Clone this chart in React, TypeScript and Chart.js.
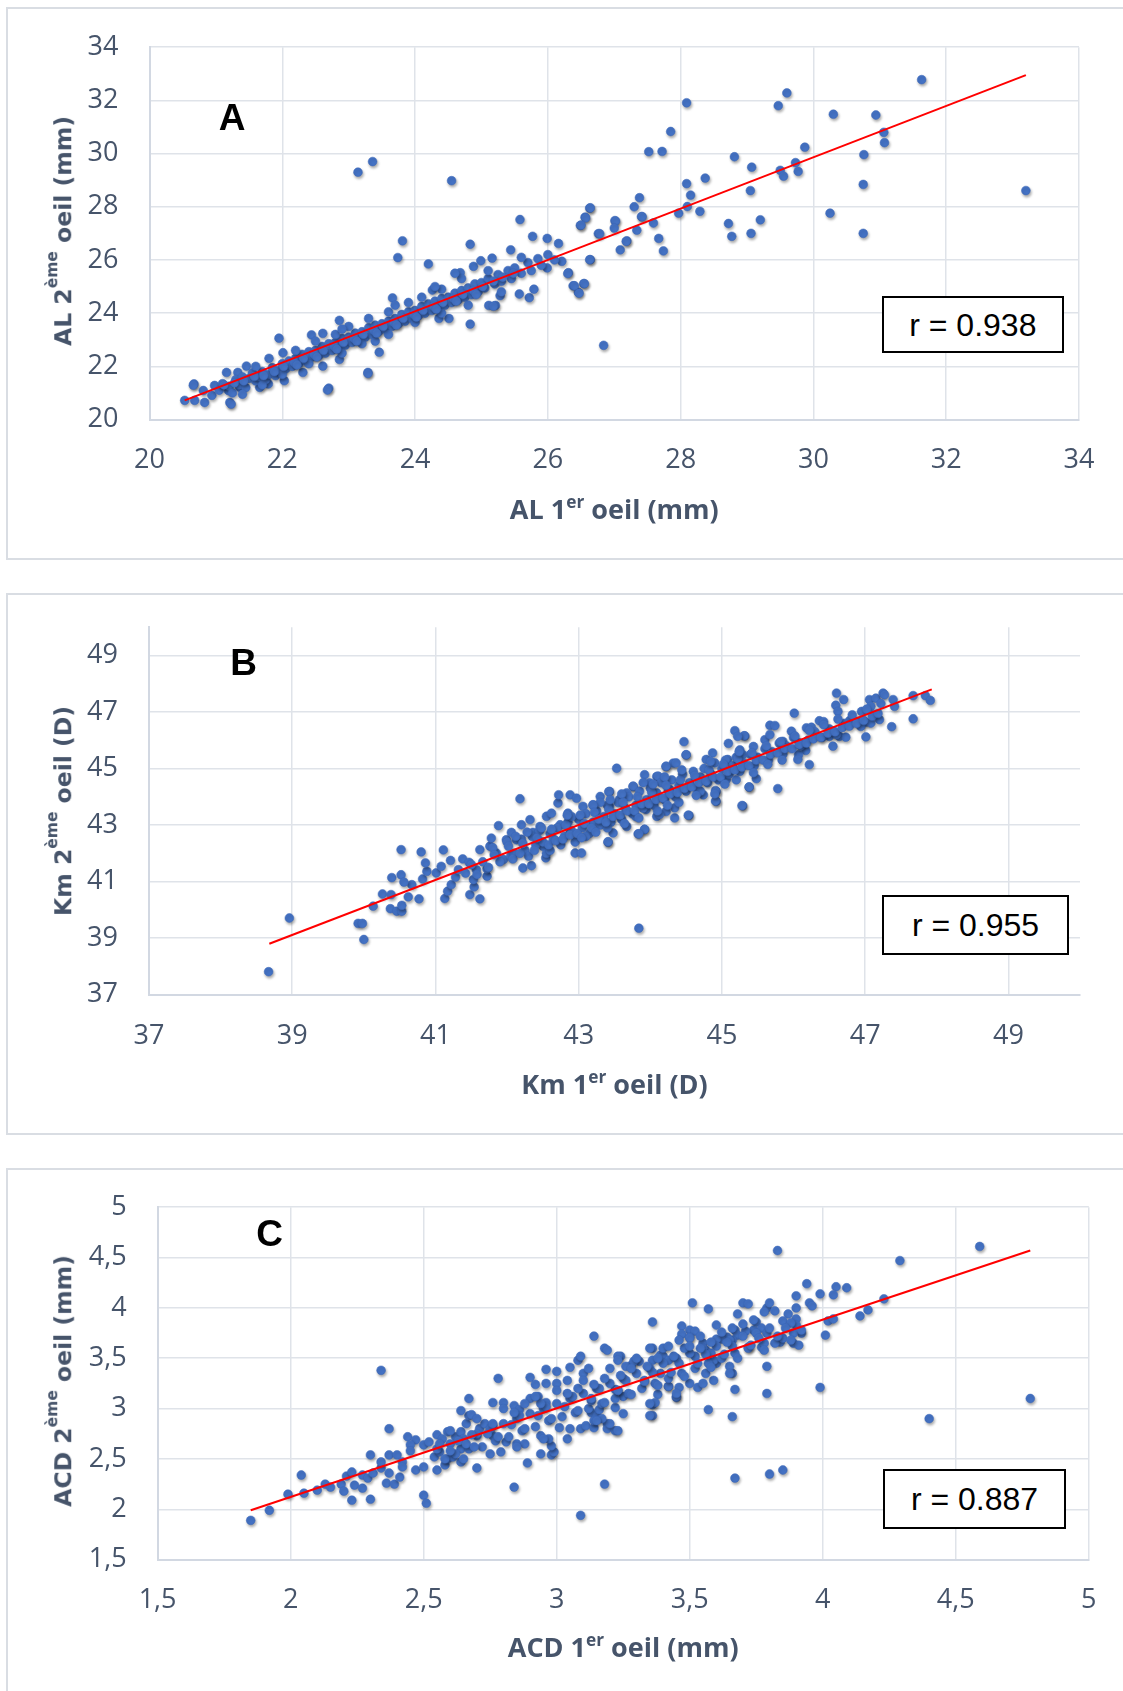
import React, { useEffect, useRef } from "react";
import { Chart, registerables } from "chart.js";
Chart.register(...registerables);

// ---------------- Panel A : AL (axial length) ----------------
const alTicks = [20, 22, 24, 26, 28, 30, 32, 34];
const alRange = [20, 34];
const alTrend = [[20.53, 20.72], [33.2, 32.95]];
const alR = "r = 0.938";
const alPoints = [
  [23.14,29.30],[23.36,29.70],[24.55,28.98],[23.81,26.72],[23.74,26.09],[24.20,25.85],[24.83,26.59],[25.58,27.52],
  [26.63,27.95],[26.56,27.61],[26.49,27.30],[27.38,28.34],[27.30,28.0],[27.41,27.63],[27.01,27.48],[27.67,26.81],
  [27.74,26.34],[27.19,26.72],[27.09,26.38],[26.76,26.99],[25.77,26.89],[25.99,26.81],[26.16,26.62],[26.31,25.52],
  [26.38,25.03],[26.46,24.78],[26.54,25.11],[25.99,25.70],[26.21,25.95],[26.64,26.01],[25.44,26.38],[25.72,24.58],
  [25.57,24.72],[25.79,24.90],[25.11,24.29],[25.21,24.29],[25.28,24.66],[24.83,23.59],[26.84,22.79],[23.66,24.57],
  [24.26,24.87],[24.68,25.52],[24.88,25.76],[24.99,25.97],[25.16,26.07],[24.51,23.80],[24.36,23.80],[23.46,22.53],
  [23.29,21.77],[22.70,21.18],[22.86,23.73],[22.44,23.18],[22.61,23.24],[21.95,23.06],[22.01,22.51],[21.16,21.77],
  [21.33,21.77],[21.46,22.01],[20.67,21.34],[20.53,20.72],[20.68,20.72],[20.81,21.09],[20.83,20.64],[20.94,20.91],
  [20.98,21.28],[21.21,20.64],[21.19,21.09],[21.36,21.21],[21.66,21.21],[21.79,21.34],[22.03,21.46],[22.31,21.77],
  [22.61,22.01],[22.86,22.26],[23.29,21.73],[22.68,21.11],[21.23,20.58],[20.66,21.29],[25.18,24.26],
  [31.63,32.78],[29.6,32.28],[29.47,31.80],[30.3,31.48],[30.94,31.45],[31.06,30.80],[31.07,30.41],[30.76,29.96],
  [30.75,28.84],[30.75,27.0],[33.2,28.61],[30.25,27.76],[29.87,30.24],[29.73,29.66],[29.5,29.37],[29.55,29.15],
  [29.77,29.33],[29.07,29.49],[28.81,29.88],[29.05,28.61],[29.2,27.51],[28.72,27.37],[28.77,26.89],[29.06,27.0],
  [28.09,31.91],[27.85,30.83],[27.52,30.07],[27.72,30.08],[28.09,28.87],[28.15,28.44],[28.37,29.08],[27.97,27.76],
  [28.29,27.83],[28.1,28.01],[27.34,27.12],[27.59,27.39],[27.42,27.63],[27.02,27.46],[27.0,27.20],[27.18,26.70],
  [26.78,26.99],[26.64,27.96],[26.57,27.58],[26.50,27.31],[26.63,26.01],[26.30,25.49],[26.40,25.03],[26.55,25.11],
  [26.47,24.75],
  [21.05,21.1],[21.1,21.35],[21.2,21.25],[21.25,21.0],[21.3,21.5],[21.35,21.3],[21.4,21.6],[21.45,21.2],[21.5,21.55],
  [21.55,21.75],[21.6,21.45],[21.65,21.6],[21.7,21.8],[21.75,21.5],[21.8,21.7],[21.85,21.95],[21.9,21.65],[21.95,21.85],
  [22.0,22.1],[22.05,21.9],[22.1,22.2],[22.15,22.0],[22.2,22.3],[22.25,22.1],[22.3,22.45],[22.35,22.2],[22.4,22.55],
  [22.45,22.35],[22.5,22.6],[22.55,22.4],[22.6,22.75],[22.65,22.5],[22.7,22.85],[22.75,22.6],[22.8,22.9],[22.85,22.7],
  [22.9,23.05],[22.95,22.8],[23.0,23.1],[23.05,22.9],[23.1,23.25],[23.15,23.0],[23.2,23.3],[23.25,23.1],[23.3,23.45],
  [23.35,23.2],[23.4,23.55],[23.45,23.3],[23.5,23.6],[23.55,23.4],[23.6,23.7],[23.65,23.5],[23.7,23.8],[23.75,23.6],
  [23.8,23.95],[23.85,23.7],[23.9,24.05],[23.95,23.8],[24.0,24.1],[24.05,23.9],[24.1,24.25],[24.15,24.0],[24.2,24.35],
  [24.25,24.1],[24.3,24.45],[24.35,24.2],[24.4,24.55],[24.45,24.3],[24.5,24.6],[24.55,24.4],[24.6,24.75],[24.65,24.5],
  [24.7,24.85],[24.75,24.6],[24.8,24.95],[24.85,24.7],[24.9,25.1],[24.95,24.8],[25.0,25.15],[25.05,24.95],[25.1,25.3],
  [25.2,25.1],[25.25,25.45],[25.3,25.2],[25.4,25.6],[25.45,25.3],[25.5,25.7],[25.6,25.5],[25.7,25.9],[25.75,25.6],
  [25.85,26.05],[25.9,25.8],[26.0,26.2],[26.1,26.0],
  [22.2,22.6],[22.5,22.95],[22.8,23.2],[23.0,23.5],[23.3,23.8],[23.6,24.05],[23.9,24.4],[24.1,24.6],[24.4,24.9],
  [24.7,25.3],[21.6,22.0],[21.8,22.3],[22.9,23.4],[23.7,24.3],[24.6,25.5],[24.3,25.0],[25.1,25.6],[25.6,26.1],
  [22.0,21.7],[22.4,22.1],[22.9,22.5],[23.2,22.85],[23.6,23.2],[24.0,23.65],[24.4,24.0],[24.8,24.3],[25.3,24.8],
  [21.4,20.95],[21.7,21.3],[23.4,22.95],
  [21.12,21.3],[21.28,21.38],[21.42,21.45],[21.58,21.62],[21.72,21.65],[21.88,21.8],[22.02,22.0],[22.18,22.15],
  [22.32,22.3],[22.48,22.45],[22.62,22.6],[22.78,22.75],[22.92,22.9],[23.08,23.05],[23.22,23.2],[23.38,23.35],
  [23.52,23.5],[23.68,23.65],[23.82,23.8],[23.98,23.95],[24.12,24.1],[24.28,24.25],[24.42,24.4],[24.58,24.55],
  [24.72,24.7],[24.88,24.85],[25.02,25.0],[25.18,25.2],[25.32,25.35],[25.48,25.5],[23.12,22.95],[23.42,23.25],
  [23.72,23.55],[24.02,23.85],[24.32,24.15],[24.62,24.45],[24.92,24.7],[22.52,22.35],[22.82,22.65],[22.22,22.05]
];

// ---------------- Panel B : Km (keratometry) ----------------
const kmTicks = [37, 39, 41, 43, 45, 47, 49];
const kmRange = [37, 50];
const kmTrend = [[38.68, 38.80], [47.93, 47.80]];
const kmR = "r = 0.955";
const kmPoints = [
  [38.67,37.81],[38.96,39.71],[39.92,39.52],[39.98,39.52],[40.0,38.95],[43.84,39.35],[42.18,43.93],[43.53,45.01],
  [44.47,45.95],[45.18,46.34],[45.32,46.15],[40.52,42.13],[40.80,42.05],[41.11,42.12],[40.39,41.14],[40.52,41.24],
  [40.26,40.56],[40.38,40.54],[40.13,40.13],[40.37,40.04],[40.46,39.95],[40.53,39.95],[40.53,40.16],[40.62,40.46],
  [40.77,40.39],[40.67,40.89],[40.56,40.98],[40.82,41.09],[40.88,41.36],[40.86,41.66],[41.01,41.31],[41.08,41.54],
  [41.21,41.75],[41.13,40.40],[41.17,40.66],[41.22,40.89],[41.28,41.16],[41.32,41.42],[41.38,41.80],[41.48,40.54],
  [41.54,40.81],[41.62,40.39],[41.53,41.07],[41.57,41.42],[41.47,41.68],[41.72,41.19],[41.72,41.45],[41.62,42.13],
  [41.76,42.25],[41.78,42.54],[41.88,42.98],[41.85,42.01],[41.99,42.48],[42.06,42.74],[41.95,41.78],[42.13,42.48],
  [42.22,41.48],[42.34,41.56],[42.20,43.01],[42.32,43.19],[42.36,42.74],[42.46,42.95],[42.54,41.84],[42.50,42.25],
  [42.55,43.31],[42.62,43.42],[42.71,43.78],[42.72,44.07],[42.88,44.07],[42.97,43.95],[42.74,43.01],[42.88,42.72],
  [42.95,42.01],[43.04,42.01],[42.85,43.42],[43.06,43.66],[43.20,43.72],[43.30,44.01],[43.43,44.19],[43.41,42.39],
  [43.48,42.72],[43.67,42.95],[43.83,42.69],[43.92,42.84],[43.76,44.36],[43.92,44.78],[44.09,44.72],[44.09,43.31],
  [44.22,43.48],[44.34,43.25],[44.54,43.34],[44.22,45.07],[44.50,45.48],[44.32,45.19],[44.92,44.19],[44.92,43.84],
  [44.74,44.07],[45.29,43.68],[45.38,44.34],[45.09,45.89],[45.25,45.66],[45.44,45.78],
  [46.60,47.67],[46.70,47.44],[46.59,47.24],[46.62,47.02],[46.01,46.96],[45.67,46.53],[45.74,46.52],[45.97,46.32],
  [46.18,46.44],[46.25,46.46],[46.36,46.69],[46.42,46.66],[45.31,46.16],[45.22,46.14],[45.60,46.02],[45.67,46.20],
  [45.85,45.96],[45.84,45.67],[46.08,45.91],[46.17,45.64],[46.07,45.49],[46.06,45.32],[46.22,45.14],[46.55,46.32],
  [46.50,46.14],[46.55,45.79],[46.64,46.14],[46.73,46.11],[46.78,46.69],[46.90,46.67],[46.95,47.02],[47.06,47.44],
  [47.15,47.49],[47.25,47.67],[47.27,47.61],[47.39,47.44],[47.41,47.20],[47.08,47.20],[47.13,46.91],[47.20,46.73],
  [47.01,46.64],[46.94,46.49],[47.08,46.61],[47.01,46.12],[47.37,46.48],[47.67,47.58],[47.84,47.58],[47.91,47.41],
  [47.67,46.76],[45.78,44.29],[45.28,43.69],[45.38,44.35],[45.48,44.64],[44.91,44.22],[44.91,43.85],[44.53,43.35],
  [43.92,42.85],[43.84,42.69],[43.41,42.41],[43.42,44.18],[45.29,45.49],[45.08,45.32],[45.06,44.61],[44.78,45.32],
  [44.87,45.55],[44.50,45.49],[44.22,45.08],[44.36,45.20],[44.11,44.73],[43.99,44.49],[43.76,44.38],[43.67,44.14],
  [43.57,43.91],[43.43,43.67],[44.09,44.14],[44.27,44.26],[44.34,43.61],[44.13,43.38],[43.94,43.55],
  [41.8,42.2],[41.9,41.7],[42.0,42.4],[42.05,41.9],[42.1,42.0],[42.2,42.5],[42.25,42.1],[42.3,41.9],[42.35,42.6],
  [42.4,42.3],[42.45,42.8],[42.5,42.4],[42.55,42.0],[42.6,42.7],[42.65,42.5],[42.7,42.9],[42.75,42.3],[42.8,42.6],
  [42.85,43.1],[42.9,42.8],[42.95,42.4],[43.0,43.2],[43.05,42.9],[43.1,43.4],[43.15,42.7],[43.2,43.1],[43.25,43.5],
  [43.3,43.0],[43.35,43.3],[43.4,43.7],[43.45,43.1],[43.5,43.4],[43.55,43.8],[43.6,43.2],[43.65,43.6],[43.7,44.0],
  [43.75,43.4],[43.8,43.7],[43.85,44.2],[43.9,43.6],[43.95,43.9],[44.0,44.3],[44.05,43.7],[44.1,44.0],[44.15,44.5],
  [44.2,43.9],[44.25,44.2],[44.3,44.6],[44.35,44.0],[44.4,44.4],[44.45,44.8],[44.5,44.2],[44.55,44.5],[44.6,44.9],
  [44.65,44.3],[44.7,44.7],[44.75,45.0],[44.8,44.5],[44.85,44.8],[44.9,45.2],[44.95,44.6],[45.0,45.0],[45.05,45.3],
  [45.1,44.8],[45.15,45.1],[45.2,45.4],[45.25,44.9],[45.3,45.2],[45.4,45.5],[45.45,45.1],[45.5,45.4],[45.6,45.7],
  [45.65,45.3],[45.7,45.6],[45.8,45.9],[45.85,45.5],[45.9,45.8],[46.0,46.1],[46.1,45.8],[46.2,46.0],[46.3,46.3],
  [46.4,46.1],[46.5,46.4],[46.6,46.2],[46.7,46.6],
  [43.1,42.6],[43.3,43.8],[43.6,44.1],[43.9,44.5],[44.2,44.7],[44.4,43.8],[44.7,44.2],[44.9,44.1],[45.2,44.6],
  [43.4,42.9],[43.8,43.3],[44.1,43.5],[42.6,42.1],[42.9,43.3],[43.2,43.7],
  [42.02,42.25],[42.08,41.8],[42.12,42.6],[42.18,42.0],[42.22,42.35],[42.28,42.75],[42.38,42.1],[42.42,42.55],
  [42.48,42.9],[42.58,42.3],[42.62,42.85],[42.68,42.45],[42.78,42.5],[42.82,43.0],[42.88,42.65],[42.84,43.35],
  [42.98,42.7],[43.02,43.35],[43.08,43.05],[43.04,42.55],[43.18,42.9],[43.22,43.45],[43.28,43.2],[43.24,42.75],
  [43.38,43.1],[43.42,43.55],[43.48,43.3],[43.44,43.9],[43.58,43.35],[43.62,43.8],[43.68,43.5],[43.64,43.05],
  [43.78,43.5],[43.82,44.0],[43.88,43.75],[43.84,43.25],[43.98,43.75],[44.02,44.15],[44.08,43.9],[44.04,44.45],
  [44.18,43.95],[44.22,44.4],[44.28,44.1],[44.24,43.7],[44.38,44.15],[44.42,44.6],[44.48,44.3],[44.44,44.95],
  [44.58,44.35],[44.62,44.75],[44.68,44.5],[44.64,44.05],[44.78,44.55],[44.82,44.95],[44.88,44.7],[44.84,45.25],
  [44.98,44.7],[45.02,45.15],[45.08,44.9],[45.04,44.45],[45.18,44.95],[45.22,45.35],[45.28,45.05],[45.24,45.6],
  [45.38,45.1],[45.42,45.55],[45.48,45.3],[45.44,44.85],[45.58,45.3],[45.62,45.8],[45.68,45.5],[45.64,45.15],
  [45.78,45.55],[45.82,45.95],[45.88,45.7],[45.84,45.3],[45.98,45.7],[46.02,46.15],[46.08,45.85],[46.18,45.9],
  [46.22,46.35],[46.28,46.05],[46.38,46.1],[46.42,46.55],[46.48,46.25],[46.58,46.3],[46.62,46.75],[46.68,46.45],
  [46.78,46.5],[46.82,46.9],[46.88,46.6],[46.98,46.7],[47.02,47.1],[47.1,46.85],[47.18,46.95],[47.22,47.3],
  [41.42,41.3],[41.5,41.6],[41.58,41.25],[41.66,41.7],[41.74,41.5],[41.82,41.95]
];

// ---------------- Panel C : ACD (anterior chamber depth) ----------------
const acdTicks = [1.5, 2, 2.5, 3, 3.5, 4, 4.5, 5];
const acdRange = [1.5, 5];
const acdTrend = [[1.85, 1.99], [4.78, 4.57]];
const acdR = "r = 0.887";
const acdPoints = [
  [1.85,1.89],[1.92,1.99],[1.99,2.15],[2.05,2.16],[2.04,2.34],[2.10,2.19],[2.13,2.25],[2.15,2.22],[2.19,2.25],
  [2.20,2.18],[2.23,2.09],[2.24,2.24],[2.27,2.21],[2.30,2.10],[2.21,2.33],[2.23,2.37],[2.27,2.34],[2.29,2.31],
  [2.31,2.36],[2.34,2.41],[2.34,2.47],[2.30,2.54],[2.37,2.54],[2.40,2.54],[2.37,2.36],[2.36,2.26],[2.39,2.25],
  [2.41,2.32],[2.42,2.47],[2.42,2.42],[2.37,2.80],[2.34,3.38],[2.44,2.72],[2.47,2.69],[2.45,2.64],[2.45,2.58],
  [2.47,2.39],[2.50,2.42],[2.50,2.14],[2.51,2.06],[2.50,2.64],[2.52,2.67],[2.55,2.74],[2.59,2.77],[2.57,2.70],
  [2.54,2.52],[2.55,2.39],[2.58,2.44],[2.59,2.50],[2.56,2.57],[2.61,2.52],[2.64,2.47],[2.64,2.60],[2.70,2.41],
  [2.62,2.72],[2.64,2.77],[2.66,2.85],[2.67,2.93],[2.64,2.98],[2.67,3.10],[2.68,2.94],[2.70,2.73],[2.71,2.80],
  [2.73,2.85],[2.76,2.83],[2.76,2.73],[2.79,2.57],[2.81,2.67],[2.85,2.65],[2.88,2.65],[2.89,2.46],[2.84,2.22],
  [2.76,3.06],[2.80,3.06],[2.78,3.30],[2.84,3.03],[2.86,2.99],[2.90,3.31],[2.92,3.24],[2.96,3.25],[2.96,3.39],
  [3.00,3.37],[2.93,3.12],[2.96,3.06],[2.94,2.73],[2.94,2.55],[2.98,2.54],[2.99,2.57],[2.98,2.63],[2.97,2.70],
  [3.01,2.81],[3.04,2.70],[3.05,3.41],[3.08,3.48],[3.09,3.52],[3.09,1.94],[3.14,3.72],[3.18,3.60],[3.19,3.58],
  [3.18,2.25],[3.09,2.80],[3.11,2.83],[3.14,2.81],[3.19,2.85],[3.19,2.80],[3.22,2.78],[3.13,2.96],[3.15,2.93],
  [3.16,2.99],[3.24,3.52],[3.28,3.43],[3.31,3.47],[3.36,3.86],[3.36,2.93],[3.36,3.04],[3.42,3.22],[3.45,3.11],
  [3.36,3.60],[3.39,3.53],
  [3.83,4.57],[4.59,4.61],[4.29,4.47],[4.78,3.10],[4.40,2.90],[4.23,4.09],[4.17,3.98],[4.14,3.92],[4.09,4.20],
  [4.05,4.21],[4.04,4.13],[3.99,4.14],[3.94,4.24],[3.90,4.12],[3.95,4.05],[3.96,4.02],[3.90,4.00],[3.87,3.94],
  [3.85,3.87],[3.90,3.89],[3.90,3.83],[3.92,3.75],[3.89,3.75],[3.89,3.65],[3.91,3.63],[3.84,3.66],[3.82,3.65],
  [4.01,3.73],[4.02,3.87],[4.04,3.89],[3.99,3.21],[3.79,3.42],[3.79,3.15],[3.67,3.19],[3.66,2.92],[3.57,2.99],
  [3.35,2.93],[3.85,2.39],[3.80,2.35],[3.67,2.31],[3.79,4.00],[3.80,4.05],[3.78,3.96],[3.82,3.97],[3.70,4.05],
  [3.72,4.04],[3.68,3.94],[3.57,3.99],[3.51,4.05],[3.75,3.86],[3.74,3.78],[3.77,3.80],[3.79,3.75],[3.71,3.77],
  [3.67,3.78],[3.68,3.73],[3.66,3.68],[3.64,3.71],[3.62,3.69],[3.60,3.83],[3.60,3.69],[3.77,3.61],[3.72,3.61],
  [3.47,3.82],[3.50,3.78],[3.52,3.77],[3.47,3.74],[3.50,3.71],[3.55,3.65],[3.56,3.58],[3.52,3.52],[3.50,3.25],
  [3.53,3.21],[3.59,3.28],[3.56,3.35],[3.66,3.35],[3.65,3.42],[3.60,3.45],[3.59,3.48],[3.23,3.52],[3.23,3.48],
  [3.26,3.42],[3.29,3.47],[3.35,3.60],[3.40,3.52],[3.42,3.48],[3.36,3.48],[3.45,3.12],[3.38,3.14],[3.37,3.06],
  [3.42,3.22],[3.46,3.21],[3.39,3.35],[3.22,3.19],[3.25,3.12],[3.22,3.01],[3.20,2.85],[3.23,2.78],[3.17,2.90],
  [3.14,2.88],
  [2.55,2.6],[2.58,2.5],[2.6,2.65],[2.62,2.55],[2.65,2.7],[2.67,2.6],[2.7,2.75],[2.72,2.62],[2.75,2.8],[2.77,2.68],
  [2.8,2.85],[2.82,2.72],[2.85,2.9],[2.87,2.78],[2.9,2.95],[2.92,2.82],[2.95,3.0],[2.97,2.88],[3.0,3.05],[3.02,2.92],
  [3.05,3.1],[3.07,2.96],[3.1,3.15],[3.12,3.0],[3.15,3.2],[3.17,3.05],[3.2,3.25],[3.22,3.1],[3.25,3.3],[3.27,3.15],
  [3.3,3.35],[3.32,3.2],[3.35,3.4],[3.37,3.25],[3.4,3.45],[3.42,3.3],[3.45,3.5],[3.47,3.35],[3.5,3.55],[3.52,3.4],
  [3.55,3.6],[3.57,3.45],[3.6,3.62],[3.62,3.5],[3.65,3.68],[3.67,3.55],[3.7,3.72],[3.72,3.6],[3.75,3.75],[3.78,3.65],
  [3.8,3.8],[3.85,3.7],[3.88,3.85],[3.92,3.78],
  [2.7,2.9],[2.8,3.0],[2.9,3.1],[3.0,3.25],[3.1,3.35],[3.2,3.4],[3.3,3.5],[3.4,3.6],[3.5,3.7],[2.75,2.55],
  [2.85,2.62],[2.95,2.7],[3.05,2.8],[3.15,2.88],[3.25,2.95],[3.35,3.05],[3.45,3.15],[3.55,3.25],[3.65,3.35],
  [2.65,2.5],[2.6,2.78],[3.08,3.2],[3.18,3.3],[3.28,3.4],[3.38,3.5],[3.48,3.6],[3.58,3.55],[3.13,3.08],[3.23,3.18],
  [3.33,3.28],
  [2.56,2.65],[2.6,2.58],[2.63,2.68],[2.66,2.65],[2.68,2.74],[2.69,2.62],[2.74,2.75],[2.76,2.85],[2.78,2.72],
  [2.83,2.84],[2.86,2.93],[2.88,2.8],[2.84,2.96],[2.93,2.93],[2.96,3.02],[2.98,2.9],[2.94,3.05],[3.03,3.02],
  [3.06,3.12],[3.08,2.98],[3.04,3.15],[3.13,3.1],[3.16,3.2],[3.18,3.06],[3.14,3.24],[3.23,3.18],[3.26,3.28],
  [3.28,3.14],[3.24,3.33],[3.33,3.27],[3.36,3.36],[3.38,3.23],[3.34,3.42],[3.43,3.36],[3.46,3.45],[3.48,3.32],
  [3.44,3.52],[3.53,3.45],[3.56,3.54],[3.58,3.41],[3.54,3.6],[3.63,3.54],[3.66,3.62],[3.68,3.5],[3.64,3.66],
  [3.73,3.63],[3.76,3.7],[3.78,3.58],[3.83,3.72],[3.86,3.8],[3.88,3.68],
  [3.42,3.62],[3.46,3.68],[3.5,3.62],[3.54,3.72],[3.58,3.66],[3.62,3.76],[3.66,3.8],[3.7,3.84],[3.74,3.88],
  [2.88,3.05],[2.92,3.12],[3.0,3.18],[3.04,3.28],[3.1,3.28],[3.12,3.4]
];

// ---------------- styling ----------------
const TICK_COLOR = "#46546A";
const GRID_COLOR = "#DFE3E9";
const AXIS_COLOR = "#D2D8E2";
const POINT_COLOR = "#4472C4";
const FRAME_COLOR = "#D9DDE3";

type Spec = {
  top: number; height: number;
  area: { left: number; right: number; top: number; bottom: number };
  xRange: number[]; yRange: number[]; xTicks: number[]; yTicks: number[];
  comma: boolean; points: number[][]; trend: number[][];
  xTickPad: number; yTickPad: number;
};

const specs: Spec[] = [
  { top: 0, height: 560, area: { left: 149.5, right: 1079, top: 41.5, bottom: 419.5 },
    xRange: alRange, yRange: alRange, xTicks: alTicks, yTicks: alTicks, comma: false,
    points: alPoints, trend: alTrend, xTickPad: 25, yTickPad: 31 },
  { top: 580, height: 560, area: { left: 149, right: 1080, top: 627, bottom: 994.6 },
    xRange: kmRange, yRange: kmRange, xTicks: kmTicks, yTicks: kmTicks, comma: false,
    points: kmPoints, trend: kmTrend, xTickPad: 26, yTickPad: 31 },
  { top: 1160, height: 531, area: { left: 157.6, right: 1088.8, top: 1201.6, bottom: 1559.6 },
    xRange: acdRange, yRange: acdRange, xTicks: acdTicks, yTicks: acdTicks, comma: true,
    points: acdPoints, trend: acdTrend, xTickPad: 25, yTickPad: 31 },
];

const shadowPlugin = {
  id: "pointShadow",
  beforeDatasetDraw(chart: any, args: any) {
    if (args.index === 1) {
      const c = chart.ctx;
      c.save();
      c.shadowColor = "rgba(0,0,0,0.35)";
      c.shadowBlur = 3;
      c.shadowOffsetX = 1;
      c.shadowOffsetY = 2;
    }
  },
  afterDatasetDraw(chart: any, args: any) {
    if (args.index === 1) chart.ctx.restore();
  },
};

function ChartPanel({ spec }: { spec: Spec }) {
  const ref = useRef<HTMLCanvasElement | null>(null);
  useEffect(() => {
    const a = spec.area;
    const localTop = a.top - spec.top;
    const localBottom = a.bottom - spec.top;
    const fmt = (v: any) => (spec.comma ? String(v).replace(".", ",") : String(v));
    const tickFont = { family: '"Open Sans", sans-serif', size: 27 };
    const chart = new Chart(ref.current as HTMLCanvasElement, {
      type: "scatter",
      data: {
        datasets: [
          { type: "line", data: spec.trend.map(([x, y]) => ({ x, y })), borderColor: "#FF0000",
            borderWidth: 2, pointRadius: 0, fill: false, order: 0 } as any,
          { type: "scatter", data: spec.points.map(([x, y]) => ({ x, y })), pointRadius: 4.4,
            backgroundColor: POINT_COLOR, borderColor: "#3A66B8", borderWidth: 0.5, order: 1 } as any,
        ],
      },
      options: {
        responsive: false,
        animation: false,
        events: [],
        layout: { padding: { left: 0, right: 1123 - a.right, top: localTop, bottom: 0 } },
        plugins: { legend: { display: false }, tooltip: { enabled: false } },
        scales: {
          x: {
            type: "linear", min: spec.xRange[0], max: spec.xRange[1],
            afterBuildTicks: (s: any) => { s.ticks = spec.xTicks.map((v) => ({ value: v })); },
            afterFit: (s: any) => { s.height = spec.height - localBottom; },
            ticks: { callback: (v: any) => fmt(v), color: TICK_COLOR, font: tickFont, padding: spec.xTickPad,
              maxRotation: 0, autoSkip: false },
            grid: { color: GRID_COLOR, lineWidth: 1.5, drawTicks: false },
            border: { color: AXIS_COLOR, width: 2 },
          },
          y: {
            type: "linear", min: spec.yRange[0], max: spec.yRange[1],
            afterBuildTicks: (s: any) => { s.ticks = spec.yTicks.map((v) => ({ value: v })); },
            afterFit: (s: any) => { s.width = a.left; },
            ticks: { callback: (v: any) => fmt(v), color: TICK_COLOR, font: tickFont, padding: spec.yTickPad,
              autoSkip: false },
            grid: { color: GRID_COLOR, lineWidth: 1.5, drawTicks: false },
            border: { color: AXIS_COLOR, width: 2 },
          },
        },
      } as any,
      plugins: [shadowPlugin],
    });
    return () => chart.destroy();
  }, [spec]);
  return (
    <canvas ref={ref} width={1123} height={spec.height}
      style={{ position: "absolute", left: 0, top: spec.top, width: 1123, height: spec.height }} />
  );
}

function Sup({ text, size, raise }: { text: string; size: string; raise: string }) {
  return <span style={{ fontSize: size, position: "relative", top: raise }}>{text}</span>;
}

function XTitle({ pre, post, cx, cy }: { pre: string; post: string; cx: number; cy: number }) {
  return (
    <div style={{ position: "absolute", left: cx, top: cy, transform: "translate(-50%,-50%)",
      fontFamily: '"Open Sans", sans-serif', fontWeight: 700, fontSize: 27, lineHeight: 1,
      color: TICK_COLOR, whiteSpace: "nowrap" }}>
      {pre}<Sup text="er" size="0.64em" raise="-0.62em" />{post}
    </div>
  );
}

function YTitle({ pre, post, cx, cy }: { pre: string; post: string; cx: number; cy: number }) {
  return (
    <div style={{ position: "absolute", left: cx, top: cy, transform: "translate(-50%,-50%) rotate(-90deg)",
      fontFamily: '"DejaVu Sans", sans-serif', fontWeight: 700, fontSize: 23.5, lineHeight: 1,
      color: TICK_COLOR, whiteSpace: "nowrap" }}>
      {pre}<Sup text="ème" size="0.66em" raise="-0.9em" />{post}
    </div>
  );
}

function Letter({ ch, cx, cy }: { ch: string; cx: number; cy: number }) {
  return (
    <div style={{ position: "absolute", left: cx, top: cy, transform: "translate(-50%,-50%)",
      fontFamily: '"Liberation Sans", Arial, sans-serif', fontWeight: 700, fontSize: 37, lineHeight: 1,
      color: "#000" }}>{ch}</div>
  );
}

function RBox({ text, l, t, w, h }: { text: string; l: number; t: number; w: number; h: number }) {
  return (
    <div style={{ position: "absolute", left: l, top: t, width: w, height: h, boxSizing: "border-box",
      border: "2px solid #000", background: "#fff", display: "flex", alignItems: "center",
      justifyContent: "center", fontFamily: '"Liberation Sans", Arial, sans-serif', fontSize: 32,
      color: "#000", lineHeight: 1 }}>{text}</div>
  );
}

function Frame({ top, height }: { top: number; height: number }) {
  return (
    <div style={{ position: "absolute", left: 6, top, width: 1140, height, boxSizing: "border-box",
      border: `2px solid ${FRAME_COLOR}` }} />
  );
}

export default function App() {
  return (
    <div style={{ position: "absolute", left: 0, top: 0, width: 1123, height: 1691, overflow: "hidden",
      background: "#fff" }}>
      <Frame top={7} height={553} />
      <Frame top={593} height={542} />
      <Frame top={1168} height={560} />
      {specs.map((s, i) => <ChartPanel key={i} spec={s} />)}

      <XTitle pre="AL 1" post=" oeil (mm)" cx={614.3} cy={508} />
      <YTitle pre="AL 2" post=" oeil (mm)" cx={64} cy={230.5} />
      <Letter ch="A" cx={232} cy={116.7} />
      <RBox text={alR} l={881.7} t={296} w={182.3} h={57} />

      <XTitle pre="Km 1" post=" oeil (D)" cx={614.5} cy={1083} />
      <YTitle pre="Km 2" post=" oeil (D)" cx={64} cy={811} />
      <Letter ch="B" cx={243.5} cy={661.5} />
      <RBox text={kmR} l={881.7} t={895} w={187.6} h={60} />

      <XTitle pre="ACD 1" post=" oeil (mm)" cx={623.2} cy={1646} />
      <YTitle pre="ACD 2" post=" oeil (mm)" cx={64} cy={1381} />
      <Letter ch="C" cx={269.5} cy={1232.8} />
      <RBox text={acdR} l={883.3} t={1468.7} w={182.4} h={60.6} />
    </div>
  );
}
